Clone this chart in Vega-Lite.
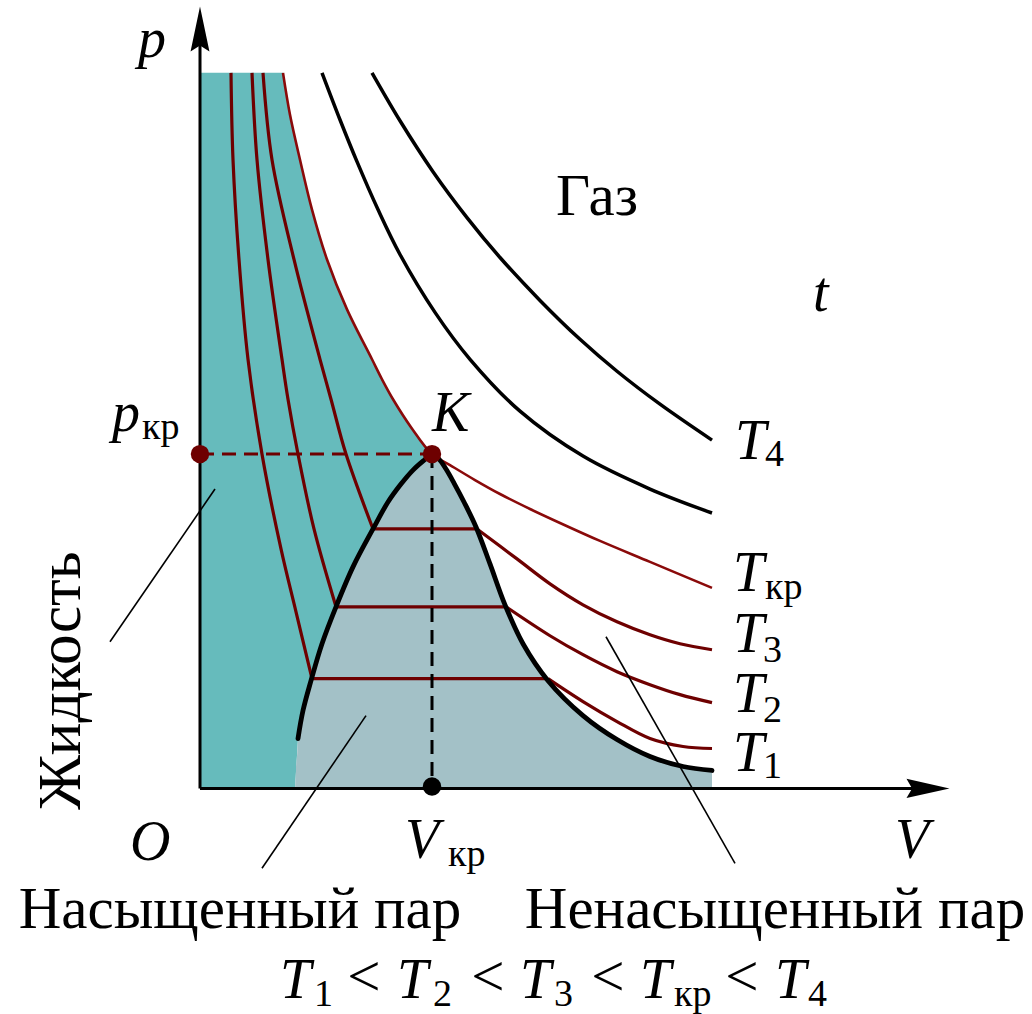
{
 "$schema": "https://vega.github.io/schema/vega-lite/v6.json",
 "width": 1032, "height": 1014, "padding": 0,
 "autosize": {"type": "fit", "contains": "padding"},
 "background": "white",
 "config": {"view": {"stroke": null}},
 "datasets": {
  "liquid": [
   {"p":7.17,"V":0.83},{"p":6.75,"V":0.90},{"p":6.30,"V":1.00},{"p":5.80,"V":1.12},{"p":5.30,"V":1.27},{"p":4.80,"V":1.47},{"p":4.30,"V":1.72},{"p":4.10,"V":1.82},{"p":3.90,"V":1.93},{"p":3.62,"V":2.11},{"p":3.35,"V":2.32},{"p":3.28,"V":2.23},{"p":3.19,"V":2.13},{"p":3.05,"V":2.01},{"p":2.87,"V":1.88},{"p":2.60,"V":1.73},{"p":2.22,"V":1.53},{"p":1.82,"V":1.36},{"p":1.45,"V":1.22},{"p":1.08,"V":1.11},{"p":0.78,"V":1.03},{"p":0.50,"V":0.98},{"p":0.00,"V":0.95}
  ],
  "sat": [
   {"p":3.35,"V":2.32,"V2":2.32},{"p":3.28,"V":2.23,"V2":2.40},{"p":3.19,"V":2.13,"V2":2.47},{"p":3.05,"V":2.01,"V2":2.55},{"p":2.87,"V":1.88,"V2":2.64},{"p":2.60,"V":1.73,"V2":2.77},{"p":2.22,"V":1.53,"V2":2.91},{"p":1.82,"V":1.36,"V2":3.06},{"p":1.45,"V":1.22,"V2":3.23},{"p":1.08,"V":1.11,"V2":3.49},{"p":0.78,"V":1.03,"V2":3.78},{"p":0.50,"V":0.98,"V2":4.16},{"p":0.32,"V":0.97,"V2":4.50},{"p":0.22,"V":0.96,"V2":4.83},{"p":0.18,"V":0.96,"V2":5.12},{"p":0.00,"V":0.95,"V2":5.12}
  ],
  "curves": [
   {"id":"T1a","kind":"iso","V":0.31,"p":7.17},{"id":"T1a","kind":"iso","V":0.33,"p":6.30},{"id":"T1a","kind":"iso","V":0.39,"p":5.30},{"id":"T1a","kind":"iso","V":0.48,"p":4.30},{"id":"T1a","kind":"iso","V":0.62,"p":3.35},{"id":"T1a","kind":"iso","V":0.81,"p":2.40},{"id":"T1a","kind":"iso","V":0.96,"p":1.77},{"id":"T1a","kind":"iso","V":1.12,"p":1.10},
   {"id":"T1b","kind":"iso","V":1.12,"p":1.10},{"id":"T1b","kind":"iso","V":3.48,"p":1.10},
   {"id":"T1c","kind":"iso","V":3.48,"p":1.10},{"id":"T1c","kind":"iso","V":3.83,"p":0.87},{"id":"T1c","kind":"iso","V":4.17,"p":0.67},{"id":"T1c","kind":"iso","V":4.50,"p":0.50},{"id":"T1c","kind":"iso","V":4.83,"p":0.42},{"id":"T1c","kind":"iso","V":5.12,"p":0.40},
   {"id":"T2a","kind":"iso","V":0.52,"p":7.17},{"id":"T2a","kind":"iso","V":0.57,"p":6.30},{"id":"T2a","kind":"iso","V":0.68,"p":5.30},{"id":"T2a","kind":"iso","V":0.82,"p":4.30},{"id":"T2a","kind":"iso","V":0.88,"p":3.90},{"id":"T2a","kind":"iso","V":0.98,"p":3.35},{"id":"T2a","kind":"iso","V":1.14,"p":2.60},{"id":"T2a","kind":"iso","V":1.36,"p":1.82},
   {"id":"T2b","kind":"iso","V":1.36,"p":1.82},{"id":"T2b","kind":"iso","V":3.06,"p":1.82},
   {"id":"T2c","kind":"iso","V":3.06,"p":1.82},{"id":"T2c","kind":"iso","V":3.50,"p":1.53},{"id":"T2c","kind":"iso","V":3.83,"p":1.34},{"id":"T2c","kind":"iso","V":4.17,"p":1.17},{"id":"T2c","kind":"iso","V":4.50,"p":1.04},{"id":"T2c","kind":"iso","V":4.80,"p":0.94},{"id":"T2c","kind":"iso","V":5.12,"p":0.86},
   {"id":"T3a","kind":"iso","V":0.63,"p":7.17},{"id":"T3a","kind":"iso","V":0.72,"p":6.30},{"id":"T3a","kind":"iso","V":0.94,"p":5.30},{"id":"T3a","kind":"iso","V":1.20,"p":4.30},{"id":"T3a","kind":"iso","V":1.31,"p":3.90},{"id":"T3a","kind":"iso","V":1.46,"p":3.35},{"id":"T3a","kind":"iso","V":1.73,"p":2.60},
   {"id":"T3b","kind":"iso","V":1.73,"p":2.60},{"id":"T3b","kind":"iso","V":2.77,"p":2.60},
   {"id":"T3c","kind":"iso","V":2.77,"p":2.60},{"id":"T3c","kind":"iso","V":3.17,"p":2.30},{"id":"T3c","kind":"iso","V":3.50,"p":2.05},{"id":"T3c","kind":"iso","V":3.83,"p":1.84},{"id":"T3c","kind":"iso","V":4.17,"p":1.67},{"id":"T3c","kind":"iso","V":4.50,"p":1.54},{"id":"T3c","kind":"iso","V":4.80,"p":1.45},{"id":"T3c","kind":"iso","V":5.12,"p":1.39},
   {"id":"Tkr","kind":"crit","V":0.83,"p":7.17},{"id":"Tkr","kind":"crit","V":0.90,"p":6.75},{"id":"Tkr","kind":"crit","V":1.00,"p":6.30},{"id":"Tkr","kind":"crit","V":1.12,"p":5.80},{"id":"Tkr","kind":"crit","V":1.27,"p":5.30},{"id":"Tkr","kind":"crit","V":1.47,"p":4.80},{"id":"Tkr","kind":"crit","V":1.72,"p":4.30},{"id":"Tkr","kind":"crit","V":1.82,"p":4.10},{"id":"Tkr","kind":"crit","V":1.93,"p":3.90},{"id":"Tkr","kind":"crit","V":2.11,"p":3.62},{"id":"Tkr","kind":"crit","V":2.32,"p":3.35},{"id":"Tkr","kind":"crit","V":2.50,"p":3.24},{"id":"Tkr","kind":"crit","V":2.75,"p":3.09},{"id":"Tkr","kind":"crit","V":3.00,"p":2.95},{"id":"Tkr","kind":"crit","V":3.30,"p":2.80},{"id":"Tkr","kind":"crit","V":3.60,"p":2.66},{"id":"Tkr","kind":"crit","V":4.00,"p":2.48},{"id":"Tkr","kind":"crit","V":4.50,"p":2.27},{"id":"Tkr","kind":"crit","V":5.12,"p":2.01},
   {"id":"T4a","kind":"hot","V":1.22,"p":7.17},{"id":"T4a","kind":"hot","V":1.40,"p":6.70},{"id":"T4a","kind":"hot","V":1.57,"p":6.28},{"id":"T4a","kind":"hot","V":1.78,"p":5.80},{"id":"T4a","kind":"hot","V":2.00,"p":5.35},{"id":"T4a","kind":"hot","V":2.35,"p":4.77},{"id":"T4a","kind":"hot","V":2.70,"p":4.30},{"id":"T4a","kind":"hot","V":3.20,"p":3.78},{"id":"T4a","kind":"hot","V":3.83,"p":3.33},{"id":"T4a","kind":"hot","V":4.50,"p":3.00},{"id":"T4a","kind":"hot","V":5.12,"p":2.76},
   {"id":"T4b","kind":"hot","V":1.72,"p":7.17},{"id":"T4b","kind":"hot","V":2.00,"p":6.69},{"id":"T4b","kind":"hot","V":2.33,"p":6.18},{"id":"T4b","kind":"hot","V":2.67,"p":5.72},{"id":"T4b","kind":"hot","V":3.00,"p":5.32},{"id":"T4b","kind":"hot","V":3.40,"p":4.89},{"id":"T4b","kind":"hot","V":3.80,"p":4.50},{"id":"T4b","kind":"hot","V":4.17,"p":4.18},{"id":"T4b","kind":"hot","V":4.60,"p":3.85},{"id":"T4b","kind":"hot","V":5.12,"p":3.49},
   {"id":"domeL","kind":"dome","V":0.98,"p":0.50},{"id":"domeL","kind":"dome","V":1.03,"p":0.78},{"id":"domeL","kind":"dome","V":1.11,"p":1.08},{"id":"domeL","kind":"dome","V":1.22,"p":1.45},{"id":"domeL","kind":"dome","V":1.36,"p":1.82},{"id":"domeL","kind":"dome","V":1.53,"p":2.22},{"id":"domeL","kind":"dome","V":1.73,"p":2.60},{"id":"domeL","kind":"dome","V":1.88,"p":2.87},{"id":"domeL","kind":"dome","V":2.01,"p":3.05},{"id":"domeL","kind":"dome","V":2.13,"p":3.19},{"id":"domeL","kind":"dome","V":2.23,"p":3.28},{"id":"domeL","kind":"dome","V":2.32,"p":3.35},
   {"id":"domeR","kind":"dome","V":2.32,"p":3.35},{"id":"domeR","kind":"dome","V":2.39,"p":3.30},{"id":"domeR","kind":"dome","V":2.46,"p":3.20},{"id":"domeR","kind":"dome","V":2.54,"p":3.06},{"id":"domeR","kind":"dome","V":2.64,"p":2.87},{"id":"domeR","kind":"dome","V":2.76,"p":2.62},{"id":"domeR","kind":"dome","V":2.90,"p":2.25},{"id":"domeR","kind":"dome","V":3.05,"p":1.84},{"id":"domeR","kind":"dome","V":3.23,"p":1.45},{"id":"domeR","kind":"dome","V":3.48,"p":1.08},{"id":"domeR","kind":"dome","V":3.83,"p":0.73},{"id":"domeR","kind":"dome","V":4.17,"p":0.49},{"id":"domeR","kind":"dome","V":4.50,"p":0.32},{"id":"domeR","kind":"dome","V":4.83,"p":0.22},{"id":"domeR","kind":"dome","V":5.12,"p":0.18}
  ],
  "segs": [
   {"kind":"dashRed","V":0,"p":3.35,"V2":2.32,"p2":3.35},
   {"kind":"dashBlack","V":2.32,"p":3.35,"V2":2.32,"p2":0.02},
   {"kind":"pointer","V":0.15,"p":3.00,"V2":-0.90,"p2":1.47},
   {"kind":"pointer","V":1.66,"p":0.73,"V2":0.62,"p2":-0.80},
   {"kind":"pointer","V":4.06,"p":1.52,"V2":5.35,"p2":-0.75},
   {"kind":"axis","V":0,"p":0,"V2":0,"p2":7.5},
   {"kind":"axis","V":0,"p":0,"V2":7.2,"p2":0}
  ],
  "arrows": [
   {"kind":"up","V":0,"p":7.61},
   {"kind":"right","V":7.28,"p":0}
  ],
  "dots": [
   {"kind":"crit","V":0,"p":3.35},
   {"kind":"crit","V":2.32,"p":3.35},
   {"kind":"vol","V":2.32,"p":0.02}
  ],
  "italic": [
   {"label":"p","V":-0.62,"p":7.33},
   {"label":"p","V":-0.88,"p":3.58},
   {"label":"K","V":2.32,"p":3.58},
   {"label":"O","V":-0.70,"p":-0.72},
   {"label":"V","V":2.05,"p":-0.70},
   {"label":"V","V":6.95,"p":-0.70},
   {"label":"t","V":6.13,"p":4.78},
   {"label":"T","V":5.35,"p":3.30},
   {"label":"T","V":5.33,"p":1.98},
   {"label":"T","V":5.33,"p":1.37},
   {"label":"T","V":5.33,"p":0.77},
   {"label":"T","V":5.33,"p":0.17},
   {"label":"T","V":0.80,"p":-2.10},
   {"label":"T","V":1.97,"p":-2.10},
   {"label":"T","V":3.20,"p":-2.10},
   {"label":"T","V":4.40,"p":-2.10},
   {"label":"T","V":5.75,"p":-2.10}
  ],
  "sub": [
   {"label":"4","V":5.65,"p":3.23},
   {"label":"кр","V":5.65,"p":1.90},
   {"label":"3","V":5.63,"p":1.27},
   {"label":"2","V":5.63,"p":0.67},
   {"label":"1","V":5.63,"p":0.10},
   {"label":"кр","V":-0.58,"p":3.50},
   {"label":"кр","V":2.48,"p":-0.78},
   {"label":"1","V":1.14,"p":-2.18},
   {"label":"2","V":2.33,"p":-2.18},
   {"label":"3","V":3.54,"p":-2.18},
   {"label":"кр","V":4.74,"p":-2.18},
   {"label":"4","V":6.08,"p":-2.18}
  ],
  "upright": [
   {"label":"Газ","V":3.97,"p":5.75},
   {"label":"Насыщенный пар","V":0.40,"p":-1.40},
   {"label":"Ненасыщенный пар","V":5.75,"p":-1.40},
   {"label":"<","V":1.64,"p":-2.08},
   {"label":"<","V":2.88,"p":-2.08},
   {"label":"<","V":4.08,"p":-2.08},
   {"label":"<","V":5.42,"p":-2.08}
  ],
  "rotated": [
   {"label":"Жидкость","V":-1.38,"p":1.08}
  ]
 },
 "layer": [
  {
   "data": {"name": "liquid"},
   "mark": {"type": "area", "orient": "horizontal", "color": "#66BBBC", "opacity": 1},
   "encoding": {
    "y": {"field":"p","type":"quantitative","scale":{"domain":[-2.24,7.9],"nice":false,"zero":false},"axis":null},
    "x": {"field":"V","type":"quantitative","scale":{"domain":[-2,8.32],"nice":false,"zero":false},"axis":null,"stack":null},
    "x2": {"datum": 0}
   }
  },
  {
   "data": {"name": "sat"},
   "mark": {"type": "area", "orient": "horizontal", "color": "#A3C1C7", "opacity": 1},
   "encoding": {
    "y": {"field":"p","type":"quantitative","scale":{"domain":[-2.24,7.9],"nice":false,"zero":false},"axis":null},
    "x": {"field":"V","type":"quantitative","scale":{"domain":[-2,8.32],"nice":false,"zero":false},"axis":null,"stack":null},
    "x2": {"field":"V2"}
   }
  },
  {
   "data": {"name": "curves"},
   "transform": [{"filter": "datum.kind === 'iso'"}],
   "mark": {"type": "line", "interpolate": "catmull-rom", "color": "#6E0000", "strokeWidth": 3.2},
   "encoding": {
    "x": {"field":"V","type":"quantitative","scale":{"domain":[-2,8.32],"nice":false,"zero":false},"axis":null},
    "y": {"field":"p","type":"quantitative","scale":{"domain":[-2.24,7.9],"nice":false,"zero":false},"axis":null},
    "detail": {"field":"id"}
   }
  },
  {
   "data": {"name": "curves"},
   "transform": [{"filter": "datum.kind === 'crit'"}],
   "mark": {"type": "line", "interpolate": "catmull-rom", "color": "#8A0A0A", "strokeWidth": 2.6},
   "encoding": {
    "x": {"field":"V","type":"quantitative","scale":{"domain":[-2,8.32],"nice":false,"zero":false},"axis":null},
    "y": {"field":"p","type":"quantitative","scale":{"domain":[-2.24,7.9],"nice":false,"zero":false},"axis":null},
    "detail": {"field":"id"}
   }
  },
  {
   "data": {"name": "curves"},
   "transform": [{"filter": "datum.kind === 'hot'"}],
   "mark": {"type": "line", "interpolate": "catmull-rom", "color": "black", "strokeWidth": 3.5},
   "encoding": {
    "x": {"field":"V","type":"quantitative","scale":{"domain":[-2,8.32],"nice":false,"zero":false},"axis":null},
    "y": {"field":"p","type":"quantitative","scale":{"domain":[-2.24,7.9],"nice":false,"zero":false},"axis":null},
    "detail": {"field":"id"}
   }
  },
  {
   "data": {"name": "segs"},
   "transform": [{"filter": "datum.kind === 'dashRed'"}],
   "mark": {"type": "rule", "color": "#6E0000", "strokeWidth": 3, "strokeDash": [14, 8]},
   "encoding": {
    "x": {"field":"V","type":"quantitative","scale":{"domain":[-2,8.32],"nice":false,"zero":false},"axis":null},
    "y": {"field":"p","type":"quantitative","scale":{"domain":[-2.24,7.9],"nice":false,"zero":false},"axis":null},
    "x2": {"field":"V2"}, "y2": {"field":"p2"}
   }
  },
  {
   "data": {"name": "segs"},
   "transform": [{"filter": "datum.kind === 'dashBlack'"}],
   "mark": {"type": "rule", "color": "black", "strokeWidth": 3, "strokeDash": [14, 8]},
   "encoding": {
    "x": {"field":"V","type":"quantitative","scale":{"domain":[-2,8.32],"nice":false,"zero":false},"axis":null},
    "y": {"field":"p","type":"quantitative","scale":{"domain":[-2.24,7.9],"nice":false,"zero":false},"axis":null},
    "x2": {"field":"V2"}, "y2": {"field":"p2"}
   }
  },
  {
   "data": {"name": "curves"},
   "transform": [{"filter": "datum.kind === 'dome'"}],
   "mark": {"type": "line", "interpolate": "catmull-rom", "color": "black", "strokeWidth": 4.8, "strokeCap": "round"},
   "encoding": {
    "x": {"field":"V","type":"quantitative","scale":{"domain":[-2,8.32],"nice":false,"zero":false},"axis":null},
    "y": {"field":"p","type":"quantitative","scale":{"domain":[-2.24,7.9],"nice":false,"zero":false},"axis":null},
    "detail": {"field":"id"}
   }
  },
  {
   "data": {"name": "segs"},
   "transform": [{"filter": "datum.kind === 'pointer'"}],
   "mark": {"type": "rule", "color": "black", "strokeWidth": 1.6},
   "encoding": {
    "x": {"field":"V","type":"quantitative","scale":{"domain":[-2,8.32],"nice":false,"zero":false},"axis":null},
    "y": {"field":"p","type":"quantitative","scale":{"domain":[-2.24,7.9],"nice":false,"zero":false},"axis":null},
    "x2": {"field":"V2"}, "y2": {"field":"p2"}
   }
  },
  {
   "data": {"name": "segs"},
   "transform": [{"filter": "datum.kind === 'axis'"}],
   "mark": {"type": "rule", "color": "black", "strokeWidth": 3},
   "encoding": {
    "x": {"field":"V","type":"quantitative","scale":{"domain":[-2,8.32],"nice":false,"zero":false},"axis":null},
    "y": {"field":"p","type":"quantitative","scale":{"domain":[-2.24,7.9],"nice":false,"zero":false},"axis":null},
    "x2": {"field":"V2"}, "y2": {"field":"p2"}
   }
  },
  {
   "data": {"name": "arrows"},
   "transform": [{"filter": "datum.kind === 'up'"}],
   "mark": {"type": "point", "shape": "M0,-1L0.42,1L0,0.74L-0.42,1Z", "size": 2025, "filled": true, "color": "black", "opacity": 1, "strokeWidth": 0},
   "encoding": {
    "x": {"field":"V","type":"quantitative","scale":{"domain":[-2,8.32],"nice":false,"zero":false},"axis":null},
    "y": {"field":"p","type":"quantitative","scale":{"domain":[-2.24,7.9],"nice":false,"zero":false},"axis":null}
   }
  },
  {
   "data": {"name": "arrows"},
   "transform": [{"filter": "datum.kind === 'right'"}],
   "mark": {"type": "point", "shape": "M1,0L-1,0.45L-0.74,0L-1,-0.45Z", "size": 1849, "filled": true, "color": "black", "opacity": 1, "strokeWidth": 0},
   "encoding": {
    "x": {"field":"V","type":"quantitative","scale":{"domain":[-2,8.32],"nice":false,"zero":false},"axis":null},
    "y": {"field":"p","type":"quantitative","scale":{"domain":[-2.24,7.9],"nice":false,"zero":false},"axis":null}
   }
  },
  {
   "data": {"name": "dots"},
   "mark": {"type": "circle", "size": 340, "opacity": 1},
   "encoding": {
    "x": {"field":"V","type":"quantitative","scale":{"domain":[-2,8.32],"nice":false,"zero":false},"axis":null},
    "y": {"field":"p","type":"quantitative","scale":{"domain":[-2.24,7.9],"nice":false,"zero":false},"axis":null},
    "color": {"field":"kind","type":"nominal","scale":{"domain":["crit","vol"],"range":["#6E0000","black"]},"legend":null}
   }
  },
  {
   "data": {"name": "italic"},
   "mark": {"type": "text", "font": "Liberation Serif", "fontStyle": "italic", "fontSize": 56, "align": "left", "baseline": "alphabetic", "color": "black"},
   "encoding": {
    "x": {"field":"V","type":"quantitative","scale":{"domain":[-2,8.32],"nice":false,"zero":false},"axis":null},
    "y": {"field":"p","type":"quantitative","scale":{"domain":[-2.24,7.9],"nice":false,"zero":false},"axis":null},
    "text": {"field":"label"}
   }
  },
  {
   "data": {"name": "sub"},
   "mark": {"type": "text", "font": "Liberation Serif", "fontSize": 38, "align": "left", "baseline": "alphabetic", "color": "black"},
   "encoding": {
    "x": {"field":"V","type":"quantitative","scale":{"domain":[-2,8.32],"nice":false,"zero":false},"axis":null},
    "y": {"field":"p","type":"quantitative","scale":{"domain":[-2.24,7.9],"nice":false,"zero":false},"axis":null},
    "text": {"field":"label"}
   }
  },
  {
   "data": {"name": "upright"},
   "mark": {"type": "text", "font": "Liberation Serif", "fontSize": 59, "align": "center", "baseline": "alphabetic", "color": "black"},
   "encoding": {
    "x": {"field":"V","type":"quantitative","scale":{"domain":[-2,8.32],"nice":false,"zero":false},"axis":null},
    "y": {"field":"p","type":"quantitative","scale":{"domain":[-2.24,7.9],"nice":false,"zero":false},"axis":null},
    "text": {"field":"label"}
   }
  },
  {
   "data": {"name": "rotated"},
   "mark": {"type": "text", "font": "Liberation Serif", "fontSize": 61, "align": "center", "baseline": "middle", "angle": 270, "color": "black"},
   "encoding": {
    "x": {"field":"V","type":"quantitative","scale":{"domain":[-2,8.32],"nice":false,"zero":false},"axis":null},
    "y": {"field":"p","type":"quantitative","scale":{"domain":[-2.24,7.9],"nice":false,"zero":false},"axis":null},
    "text": {"field":"label"}
   }
  }
 ]
}
